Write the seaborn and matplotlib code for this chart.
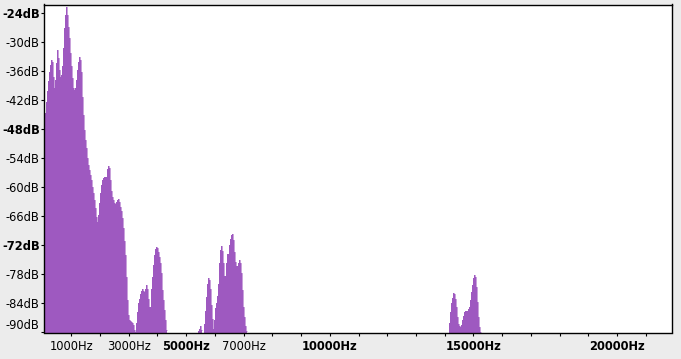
import numpy as np
import pandas as pd
import matplotlib
matplotlib.use("Agg")
import matplotlib.pyplot as plt
import seaborn as sns

# ---- data ----
BIN_HZ = 34.82  # width of one spectrum bin (one screen column)

seg1_start_hz = 101.7
seg1_db = [-44.7, -42.3, -40.0, -38.0, -36.1, -34.7, -33.7, -34.0, -37.1, -39.5,
           -37.8, -34.3, -31.6, -33.3, -35.7, -37.1, -36.8, -34.9, -31.2, -27.1,
           -24.3, -22.8, -24.3, -26.8, -29.2, -32.3, -35.0, -37.4, -39.5, -39.9,
           -39.5, -37.8, -35.7, -34.0, -33.1, -33.7, -36.1, -41.3, -45.0, -48.1,
           -50.2, -51.9, -54.0, -55.4, -56.4, -57.5, -58.5, -59.9, -61.2, -62.6,
           -64.3, -66.1, -67.1, -65.7, -63.3, -61.2, -59.5, -58.5, -58.1, -57.8,
           -57.9, -57.8, -56.2, -55.6, -56.0, -58.5, -60.8, -61.9, -62.6, -63.3,
           -63.5, -63.0, -62.6, -62.5, -63.0, -64.0, -64.8, -66.4, -68.3, -71.0,
           -74.0, -78.5, -83.3, -86.4, -87.5, -87.6, -87.8, -88.1, -88.5, -89.5,
           -89.9, -88.0, -85.7, -84.0, -83.0, -82.1, -81.4, -81.1, -81.4, -81.7,
           -81.1, -80.2, -81.1, -83.0, -84.7, -84.7, -81.1, -78.5, -76.1, -74.0,
           -72.8, -72.3, -72.6, -73.3, -74.4, -75.7, -77.8, -81.2, -83.3, -85.4,
           -87.5, -89.4]

seg2a_start_hz = 5429.1
seg2a_db = [-89.7, -89.2, -88.7, -89.4]

seg2b_start_hz = 5638.1
seg2b_db = [-88.3, -85.5, -82.6, -79.9, -78.7, -79.2, -81.1, -84.4, -87.3, -89.2,
            -87.5, -85.0, -84.0, -82.5, -79.9, -75.7, -73.0, -72.1, -73.1, -75.7,
            -78.4, -78.4, -75.7, -73.7, -73.7, -71.9, -70.6, -69.9, -69.7, -70.9,
            -73.3, -75.4, -76.2, -76.2, -75.6, -75.0, -75.6, -77.8, -81.2, -84.7,
            -86.8, -88.7, -89.7]

seg3_start_hz = 14169.0
seg3_db = [-88.1, -85.7, -84.0, -82.8, -81.9, -82.1, -83.0, -84.7, -86.8, -88.3,
           -88.7, -88.8, -88.5, -87.5, -86.6, -85.7, -85.6, -85.6, -85.6, -85.2,
           -84.7, -83.3, -81.6, -80.2, -78.8, -78.1, -78.6, -80.6, -83.7, -86.8,
           -88.8, -89.9]

xtick_hz = list(range(1000, 22000, 1000))
xlabel_hz = [1000, 3000, 5000, 7000, 10000, 15000, 20000]
xbold_hz = [5000, 10000, 15000, 20000]
ytick_db = [-24, -30, -36, -42, -48, -54, -60, -66, -72, -78, -84, -90]
ybold_db = [-24, -48, -72]

# ---- styling ----
sns.set_theme(style="white")
plt.rcParams["font.family"] = ["DejaVu Sans"]
PURPLE = "#9e59c0"
BG = "#ececec"

fig = plt.figure(figsize=(6.81, 3.59), dpi=100, facecolor=BG)
ax = fig.add_axes([44.3 / 681, 1 - 332.5 / 359, (672.3 - 44.3) / 681, (332.5 - 4.5) / 359])
ax.set_facecolor("white")

segments = [(seg1_start_hz, seg1_db), (seg2a_start_hz, seg2a_db),
            (seg2b_start_hz, seg2b_db), (seg3_start_hz, seg3_db)]
rows = []
for i, (start, vals) in enumerate(segments):
    vals = np.asarray(vals, dtype=float)
    centers = start + BIN_HZ * np.arange(len(vals))
    edges = np.concatenate([centers - BIN_HZ / 2, [centers[-1] + BIN_HZ / 2]])
    ax.stairs(vals, edges, baseline=-100, fill=True, color=PURPLE, lw=0)
    for c, v in zip(centers, vals):
        rows.append({"freq": c, "db": v, "seg": i})
df = pd.DataFrame(rows)
sns.lineplot(data=df, x="freq", y="db", units="seg", estimator=None,
             drawstyle="steps-mid", color=PURPLE, lw=0.4, ax=ax, legend=False)

ax.set_xlim(60, 21925)
ax.set_ylim(-90, -22.2)
ax.set_xlabel("")
ax.set_ylabel("")

ax.set_xticks(xtick_hz)
ax.set_xticklabels([f"{v}Hz" if v in xlabel_hz else "" for v in xtick_hz])
for v, lbl in zip(xtick_hz, ax.get_xticklabels()):
    if v in xbold_hz:
        lbl.set_fontweight("bold")
ax.set_yticks(ytick_db)
ax.set_yticklabels([f"{v}dB" for v in ytick_db])
for v, lbl in zip(ytick_db, ax.get_yticklabels()):
    if v in ybold_db:
        lbl.set_fontweight("bold")
    if v == -90:
        lbl.set_verticalalignment("bottom")

ax.tick_params(axis="both", which="major", direction="out", length=2.5, width=0.8,
               color="black", labelsize=8.3, labelcolor="black", left=True, bottom=True)
ax.tick_params(axis="y", pad=0.8)
ax.tick_params(axis="x", pad=3.0)

for s in ax.spines.values():
    s.set_visible(True)
    s.set_color("black")
    s.set_linewidth(1.0)

fig.savefig("out.png", dpi=100, facecolor=BG)
